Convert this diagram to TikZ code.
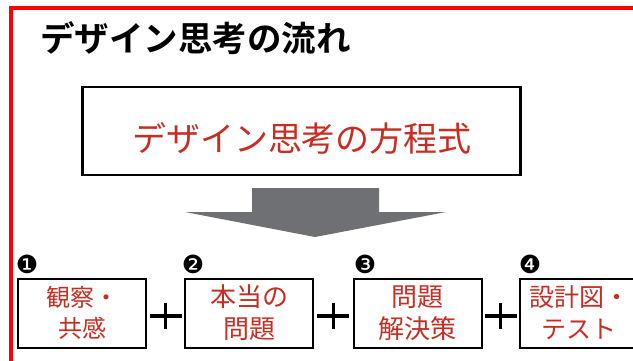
\documentclass[tikz,border=0pt]{standalone}
\usepackage{fontspec}
\usetikzlibrary{calc}
\newfontfamily\jp{Noto Sans CJK JP}
\newfontfamily\jpb{Noto Sans CJK JP Bold}
\newfontfamily\dv{DejaVu Sans}
\definecolor{txtred}{RGB}{200,45,35}
\definecolor{arrgray}{RGB}{110,112,116}
\definecolor{frame}{RGB}{255,0,0}
\tikzset{
  x=1pt, y=-1pt,
  eqbox/.style={draw=black, line width=2.2pt, minimum width=438pt, minimum height=88pt, inner sep=0pt},
  stepbox/.style={draw=black, line width=2pt, minimum width=128pt, minimum height=69pt, inner sep=0pt,
    align=center, text=txtred},
  steptext/.style={align=center, text=txtred, inner sep=0pt},
  numlabel/.style={inner sep=0pt, font=\dv\fontsize{25}{25}\selectfont},
  plusline/.style={line width=3.2pt, black},
}
\begin{document}
\begin{tikzpicture}
\useasboundingbox (0,0) rectangle (633,360);
\clip (0,0) rectangle (633,360);
\fill[white] (0,0) rectangle (633,360);
% red frame
\draw[frame, line width=4pt] (11,380) -- (11,8) -- (660,8);
% title
\node[anchor=west, inner sep=0pt] (title) at (40,38) {\jpb\fontsize{34.5}{35}\selectfont デザイン思考の流れ};
% equation box
\node[eqbox] (eq) at (301.5,131) {};
\node[text=txtred, inner sep=0pt] (eqtext) at (302,138) {\jp\fontsize{34}{34}\selectfont デザイン思考の方程式};
% arrow
\coordinate (a1) at (252,188);
\coordinate (a2) at (379,188);
\coordinate (a3) at (379,212);
\coordinate (a4) at (446,212);
\coordinate (tip) at (315,237);
\coordinate (a6) at (185,212);
\coordinate (a7) at (252,212);
\fill[arrgray] (a1) -- (a2) -- (a3) -- (a4) -- (tip) -- (a6) -- (a7) -- cycle;
% step boxes
\node[stepbox, font=\jp\fontsize{24}{31}\selectfont] (b1) at (82,313) {観察・\\共感};
\node[stepbox, font=\jp\fontsize{26}{32}\selectfont] (b2) at (249,313) {本当の\\問題};
\node[stepbox, font=\jp\fontsize{26}{32}\selectfont] (b3) at (417.5,313) {問題\\解決策};
\node[stepbox] (b4) at (584,313) {};
\node[steptext, font=\jp\fontsize{25}{32}\selectfont] (t4) at (579,313) {設計図・\\テスト};
% numbers
\node[numlabel] (n1) at (27,264) {❶};
\node[numlabel] (n2) at (193,264) {❷};
\node[numlabel] (n3) at (365,264) {❸};
\node[numlabel] (n4) at (530,264) {❹};
% plus signs
\foreach \c/\l/\r in {p1/b1/b2, p2/b2/b3, p3/b3/b4}{
  \coordinate (\c) at ($(\l.east)!0.5!(\r.west)+(0,3)$);
}
\foreach \c in {p1,p2,p3}{
  \draw[plusline] ([xshift=-16pt]\c) -- ([xshift=16pt]\c);
  \draw[plusline] ([yshift=-13pt]\c) -- ([yshift=13pt]\c);
}
\end{tikzpicture}
\end{document}
